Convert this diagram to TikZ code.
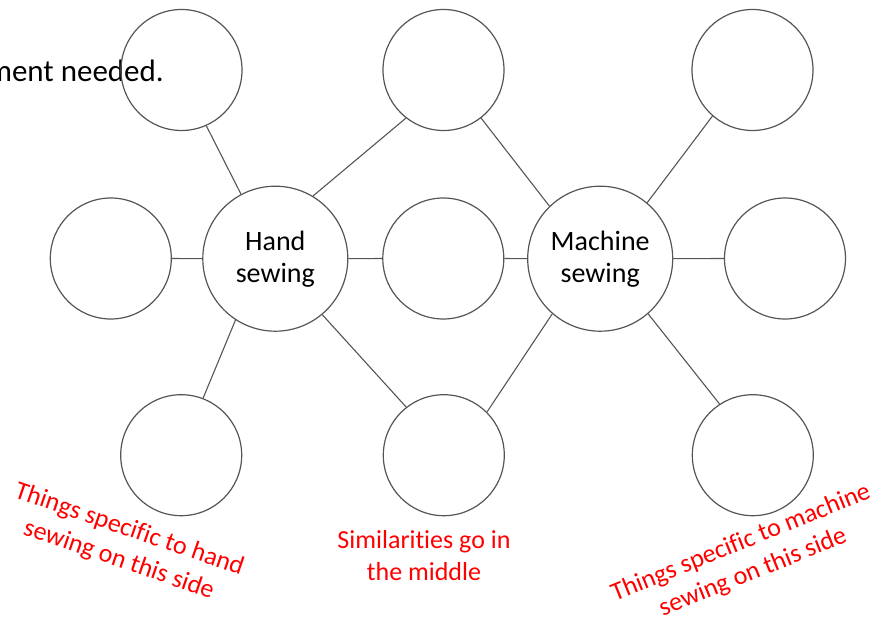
\documentclass[tikz,border=0pt]{standalone}
\usepackage{fontspec}
\setmainfont[Ligatures=NoCommon]{Carlito}
\definecolor{lin}{RGB}{85,85,85}
\definecolor{redtxt}{RGB}{255,0,0}
\begin{document}
\begin{tikzpicture}[x=1pt,y=-1pt,
  small/.style={circle,draw=lin,line width=1.2pt,inner sep=0pt,minimum size=121pt},
  big/.style={circle,draw=lin,line width=1.2pt,inner sep=0pt,minimum size=145pt,align=center,
    font=\fontsize{28}{32}\selectfont},
  conn/.style={draw=lin,line width=1.1pt},
  note/.style={text=redtxt,align=center,font=\fontsize{26}{32}\selectfont,inner sep=0pt}]
\useasboundingbox (0,0) rectangle (886,620);
\node[anchor=base east,inner sep=0pt,font=\fontsize{31}{36}\selectfont] (top) at (164,82) {ment needed.};
\node[small] (tl) at (181.5,70) {};
\node[small] (tm) at (443.5,70) {};
\node[small] (tr) at (752.5,70) {};
\node[small] (ml) at (110.8,258.5) {};
\node[big] (hand) at (275.3,258.7) {Hand\\sewing};
\node[small] (mm) at (443.3,258.5) {};
\node[big] (mach) at (600.2,258.7) {Machine\\sewing};
\node[small] (mr) at (785,258.5) {};
\node[small] (bl) at (181.2,455.2) {};
\node[small] (bm) at (443.8,455.2) {};
\node[small] (br) at (752.8,455.2) {};
\draw[conn] (tl.294) -- (hand.118.6);
\draw[conn] (tm.232) -- (hand.59.4);
\draw[conn] (tm.308.7) -- (mach.134.6);
\draw[conn] (tr.229.2) -- (mach.50.8);
\draw[conn] (ml.east) -- (hand.west);
\draw[conn] (hand.east) -- (mm.west);
\draw[conn] (mm.east) -- (mach.west);
\draw[conn] (mach.east) -- (mr.west);
\draw[conn] (hand.237.8) -- (bl.69.9);
\draw[conn] (hand.310.5) -- (bm.128.5);
\draw[conn] (mach.229.3) -- (bm.45.9);
\draw[conn] (mach.311.3) -- (br.123.6);
\node[note,rotate=-19] (nl) at (124,545) {Things specific to hand\\sewing on this side};
\node[note] (nm) at (424,556) {Similarities go in\\the middle};
\node[note,rotate=22] (nr) at (747,558) {Things specific to machine\\sewing on this side};
\end{tikzpicture}
\end{document}
